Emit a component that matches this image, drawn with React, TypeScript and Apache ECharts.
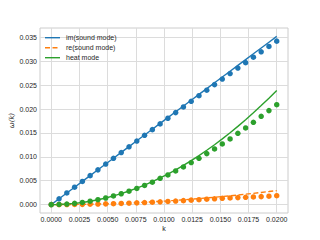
import React, { useEffect, useRef } from "react";
import * as echarts from "echarts";

const kValues = [
  0, 0.00069, 0.001379, 0.002069, 0.002759, 0.003448, 0.004138, 0.004828, 0.005517, 0.006207,
  0.006897, 0.007586, 0.008276, 0.008966, 0.009655, 0.010345, 0.011034, 0.011724, 0.012414, 0.013103,
  0.013793, 0.014483, 0.015172, 0.015862, 0.016552, 0.017241, 0.017931, 0.018621, 0.01931, 0.02,
];

const imSoundLine = [
  0, 0.00121, 0.00243, 0.00364, 0.00486, 0.00607, 0.00728, 0.0085, 0.00971, 0.01093,
  0.01214, 0.01335, 0.01457, 0.01578, 0.017, 0.01821, 0.01942, 0.02064, 0.02185, 0.02307,
  0.02428, 0.02549, 0.02671, 0.02792, 0.02914, 0.03035, 0.03156, 0.03278, 0.03399, 0.03521,
];
const reSoundLine = [
  0, 0.0000035, 0.000014, 0.000031, 0.000056, 0.000087, 0.000125, 0.000171, 0.000223, 0.000282,
  0.000348, 0.000422, 0.000502, 0.000589, 0.000683, 0.000784, 0.000892, 0.001007, 0.001129, 0.001258,
  0.001394, 0.001536, 0.001686, 0.001843, 0.002007, 0.002178, 0.002355, 0.00254, 0.002731, 0.00293,
];
const heatLine = [
  0, 0.00003, 0.00011, 0.00026, 0.00045, 0.00071, 0.00102, 0.00139, 0.00182, 0.0023,
  0.00284, 0.00344, 0.00409, 0.0048, 0.00557, 0.00639, 0.00728, 0.00821, 0.00921, 0.01026,
  0.01137, 0.01253, 0.01376, 0.01503, 0.01637, 0.01776, 0.01921, 0.02072, 0.02228, 0.0239,
];

const imSoundDots = [
  0, 0.00121, 0.00243, 0.00364, 0.00485, 0.00606, 0.00727, 0.00849, 0.00969, 0.0109,
  0.0121, 0.0133, 0.0145, 0.01569, 0.01689, 0.01807, 0.01925, 0.02044, 0.02161, 0.02279,
  0.02395, 0.02511, 0.02627, 0.02742, 0.02857, 0.02971, 0.03084, 0.03197, 0.03309, 0.03421,
];
const reSoundDots = [
  0, 0.000003, 0.00001, 0.00003, 0.00005, 0.00008, 0.00011, 0.00015, 0.00019, 0.00024,
  0.0003, 0.00036, 0.00043, 0.0005, 0.00057, 0.00065, 0.00074, 0.00083, 0.00093, 0.00103,
  0.00112, 0.00122, 0.00131, 0.00139, 0.00146, 0.00153, 0.0016, 0.00167, 0.00175, 0.00186,
];
const heatDots = [
  0, 0.00003, 0.00011, 0.00026, 0.00045, 0.00071, 0.00102, 0.00138, 0.0018, 0.00227,
  0.0028, 0.00338, 0.004, 0.00468, 0.0055, 0.00621, 0.00705, 0.00788, 0.00879, 0.00969,
  0.01067, 0.01165, 0.0127, 0.01374, 0.01492, 0.01604, 0.01722, 0.01848, 0.01967, 0.0209,
];

const xTicks = [0, 0.0025, 0.005, 0.0075, 0.01, 0.0125, 0.015, 0.0175, 0.02];
const yTicks = [0, 0.005, 0.01, 0.015, 0.02, 0.025, 0.03, 0.035];

const seriesNames = ["im(sound mode)", "re(sound mode)", "heat mode"];
const colors = ["#1f77b4", "#ff7f0e", "#2ca02c"];

const FONT = "'Liberation Sans', Arial, sans-serif";
const TEXT = "#262626";

function pairs(ys: number[]) {
  return kValues.map((k, i) => [k, ys[i]]);
}

export default function App() {
  const ref = useRef<HTMLDivElement>(null);
  useEffect(() => {
    if (!ref.current) return;
    const chart = echarts.init(ref.current, undefined, { renderer: "svg" });
    const lineData = [imSoundLine, reSoundLine, heatLine];
    const dotData = [imSoundDots, reSoundDots, heatDots];
    const series: any[] = [];
    lineData.forEach((d, i) => {
      series.push({
        type: "line",
        name: seriesNames[i],
        data: pairs(d),
        symbol: "none",
        showSymbol: false,
        clip: false,
        z: 2,
        lineStyle: { color: colors[i], width: 1.4, type: i === 1 ? [5, 2.5] : "solid" },
        itemStyle: { color: colors[i] },
      });
    });
    dotData.forEach((d, i) => {
      series.push({
        type: "scatter",
        name: "dots" + i,
        data: pairs(d),
        symbol: "circle",
        symbolSize: 5.5,
        z: 3,
        itemStyle: { color: colors[i], opacity: 1 },
      });
    });
    const graphic: any[] = [];
    seriesNames.forEach((name, i) => {
      const y = 37.7 + i * 10;
      graphic.push({
        type: "line",
        shape: { x1: 45, y1: y, x2: 60, y2: y },
        style: {
          stroke: colors[i],
          lineWidth: 1.4,
          lineDash: i === 1 ? [5, 2.5] : null,
        },
        z: 10,
      });
      graphic.push({
        type: "text",
        x: 66,
        y: y,
        style: {
          text: name,
          fontSize: 7,
          fontFamily: FONT,
          fill: TEXT,
          verticalAlign: "middle",
          textAlign: "left",
        },
        z: 10,
      });
    });
    graphic.push({
      type: "text",
      x: 164,
      y: 228,
      style: { text: "k", fontSize: 7, fontFamily: FONT, fill: TEXT, textAlign: "center", verticalAlign: "middle" },
    });
    graphic.push({
      type: "text",
      x: 12,
      y: 120.5,
      rotation: Math.PI / 2,
      style: {
        text: "ω(k)",
        fontSize: 7,
        fontStyle: "italic",
        fontFamily: "'DejaVu Sans', sans-serif",
        fill: TEXT,
        textAlign: "center",
        verticalAlign: "middle",
      },
    });
    chart.setOption({
      animation: false,
      backgroundColor: "#ffffff",
      grid: {
        left: 40,
        top: 28,
        width: 248,
        height: 185,
        show: true,
        borderColor: "#cccccc",
        borderWidth: 1,
        backgroundColor: "#ffffff",
      },
      xAxis: {
        type: "value",
        min: -0.001,
        max: 0.021,
        axisLine: { show: false },
        axisTick: { show: false, customValues: xTicks },
        axisLabel: {
          customValues: xTicks,
          fontSize: 7,
          fontFamily: FONT,
          color: TEXT,
          margin: 3,
          formatter: (v: number) => v.toFixed(4),
        },
        splitLine: { show: true, lineStyle: { color: "#dcdcdc", width: 1 } },
      },
      yAxis: {
        type: "value",
        min: -0.00176,
        max: 0.03696,
        axisLine: { show: false },
        axisTick: { show: false, customValues: yTicks },
        axisLabel: {
          customValues: yTicks,
          fontSize: 7,
          fontFamily: FONT,
          color: TEXT,
          margin: 3,
          formatter: (v: number) => v.toFixed(3),
        },
        splitLine: { show: true, lineStyle: { color: "#dcdcdc", width: 1 } },
      },
      graphic,
      series,
    });
    return () => chart.dispose();
  }, []);
  return <div ref={ref} style={{ width: 320, height: 240, position: "absolute", left: 0, top: 0 }} />;
}
